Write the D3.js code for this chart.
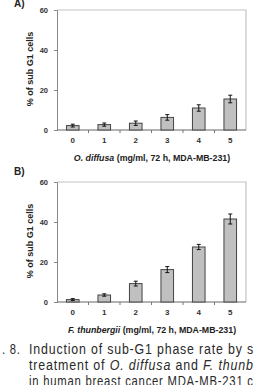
<!DOCTYPE html>
<html>
<head>
<meta charset="utf-8">
<script src="https://cdn.jsdelivr.net/npm/d3@7"></script>
<style>
    body { margin: 0; background: #fff; }
    svg { display: block; }
</style>
</head>
<body>
<div id="chart"></div>
<script>
const categories = ['0', '1', '2', '3', '4', '5'];
const diffusaValues = [2.2, 2.7, 3.4, 6.3, 11, 15.5];
const diffusaErrors = [0.7, 0.8, 1.1, 1.4, 1.6, 1.9];
const thunbergiiValues = [1.2, 3.5, 9.2, 16.2, 27.5, 41.5];
const thunbergiiErrors = [0.5, 0.6, 1.2, 1.5, 1.3, 2.5];
const yTicks = [0, 20, 40, 60];

const width = 254, height = 385;
const chartFont = 'Liberation Sans, Arial, sans-serif';

const svg = d3.select('#chart')
    .append('svg')
    .attr('width', width)
    .attr('height', height);

function drawPanel(top, values, errors, species) {
    const x0 = 57, x1 = 246;
    const yTop = top, yBottom = top + 120;

    const xScale = d3.scaleBand()
        .domain(categories)
        .range([x0, x1])
        .paddingInner(0.6)
        .paddingOuter(0.3);

    const yScale = d3.scaleLinear()
        .domain([0, 60])
        .range([yBottom, yTop]);

    const g = svg.append('g');

    // frame top / right
    g.append('path')
        .attr('d', `M${x0},${yTop}H${x1}V${yBottom}`)
        .attr('fill', 'none')
        .attr('stroke', '#c4c4c4')
        .attr('stroke-width', 1.2);

    // y axis
    const yAxis = g.append('g')
        .attr('transform', `translate(${x0}, 0)`)
        .call(d3.axisLeft(yScale).tickValues(yTicks).tickSize(3).tickPadding(6));
    yAxis.select('.domain').attr('stroke', '#888');
    yAxis.selectAll('.tick line').attr('stroke', '#888');
    yAxis.selectAll('text')
        .attr('font-family', chartFont)
        .attr('font-weight', 'bold')
        .attr('font-size', 7.5)
        .attr('fill', '#333');

    // x axis line and in-between ticks
    g.append('line')
        .attr('x1', x0).attr('x2', x1)
        .attr('y1', yBottom).attr('y2', yBottom)
        .attr('stroke', '#666')
        .attr('stroke-width', 1);

    const step = xScale.step();
    categories.forEach((c, i) => {
        if (i === 0) return;
        const tx = xScale(c) - step * 0.3;
        g.append('line')
            .attr('x1', tx).attr('x2', tx)
            .attr('y1', yBottom).attr('y2', yBottom + 3)
            .attr('stroke', '#777');
    });

    g.selectAll('.xlabel')
        .data(categories)
        .enter().append('text')
        .attr('class', 'xlabel')
        .attr('x', d => xScale(d) + xScale.bandwidth() / 2)
        .attr('y', yBottom + 13)
        .attr('text-anchor', 'middle')
        .attr('font-family', chartFont)
        .attr('font-weight', 'bold')
        .attr('font-size', 8)
        .attr('fill', '#333')
        .text(d => d);

    // bars
    const data = categories.map((c, i) => ({ c, v: values[i], e: errors[i] }));

    g.selectAll('.bar')
        .data(data)
        .enter().append('rect')
        .attr('class', 'bar')
        .attr('x', d => xScale(d.c))
        .attr('y', d => yScale(d.v))
        .attr('width', xScale.bandwidth())
        .attr('height', d => yBottom - yScale(d.v))
        .attr('fill', '#c0c0c0')
        .attr('stroke', '#444')
        .attr('stroke-width', 1);

    // error bars
    const cap = 2;
    data.forEach(d => {
        const cx = xScale(d.c) + xScale.bandwidth() / 2;
        const path = d3.path();
        path.moveTo(cx, yScale(d.v + d.e));
        path.lineTo(cx, yScale(d.v - d.e));
        path.moveTo(cx - cap, yScale(d.v + d.e));
        path.lineTo(cx + cap, yScale(d.v + d.e));
        path.moveTo(cx - cap, yScale(d.v - d.e));
        path.lineTo(cx + cap, yScale(d.v - d.e));
        g.append('path')
            .attr('d', path.toString())
            .attr('fill', 'none')
            .attr('stroke', '#111')
            .attr('stroke-width', 1);
    });

    // y title
    g.append('text')
        .attr('transform', `translate(33, ${(yTop + yBottom) / 2 - 1}) rotate(-90)`)
        .attr('text-anchor', 'middle')
        .attr('font-family', chartFont)
        .attr('font-weight', 'bold')
        .attr('font-size', 9)
        .attr('fill', '#222')
        .text('% of sub G1 cells');

    // x title
    const title = g.append('text')
        .attr('x', 152)
        .attr('y', yBottom + 31)
        .attr('text-anchor', 'middle')
        .attr('font-family', chartFont)
        .attr('font-weight', 'bold')
        .attr('font-size', 8.8)
        .attr('fill', '#222');
    title.append('tspan').attr('font-style', 'italic').text(species);
    title.append('tspan').text(' (mg/ml, 72 h, MDA-MB-231)');
}

// panel labels
[['A)', 7], ['B)', 175]].forEach(([t, y]) => {
    svg.append('text')
        .attr('x', 14).attr('y', y)
        .attr('font-family', chartFont)
        .attr('font-weight', 'bold')
        .attr('font-size', 10)
        .attr('fill', '#222')
        .text(t);
});

drawPanel(10, diffusaValues, diffusaErrors, 'O. diffusa');
drawPanel(182, thunbergiiValues, thunbergiiErrors, 'F. thunbergii');

// caption (narrow face: squeeze a regular face horizontally)
const captionLines = [
    [{ t: 'Induction of sub-G1 phase rate by s' }],
    [{ t: 'treatment of ' }, { t: 'O. diffusa', i: true }, { t: ' and ' }, { t: 'F. thunb', i: true }],
    [{ t: 'in human breast cancer MDA-MB-231 c' }]
];
const captionWidth = 225;

function captionText(segs) {
    const grp = svg.append('g');
    const txt = grp.append('text')
        .attr('font-family', 'Liberation Sans, Arial, sans-serif')
        .attr('font-size', 15)
        .attr('letter-spacing', 1)
        .attr('fill', '#2a2a2a')
        .style('white-space', 'pre');
    segs.forEach(seg => {
        const ts = txt.append('tspan').text(seg.t);
        if (seg.i) ts.attr('font-style', 'italic');
    });
    return { grp, txt };
}

const figLabel = captionText([{ t: '. 8.' }]);
figLabel.grp.attr('transform', 'translate(2, 354) scale(0.75, 1)');

captionLines.forEach((line, li) => {
    const c = captionText(line);
    const w = c.txt.node().getComputedTextLength();
    const k = captionWidth / w;
    c.grp.attr('transform', `translate(29, ${354 + li * 16}) scale(${k}, 1)`);
});
</script>
</body>
</html>
